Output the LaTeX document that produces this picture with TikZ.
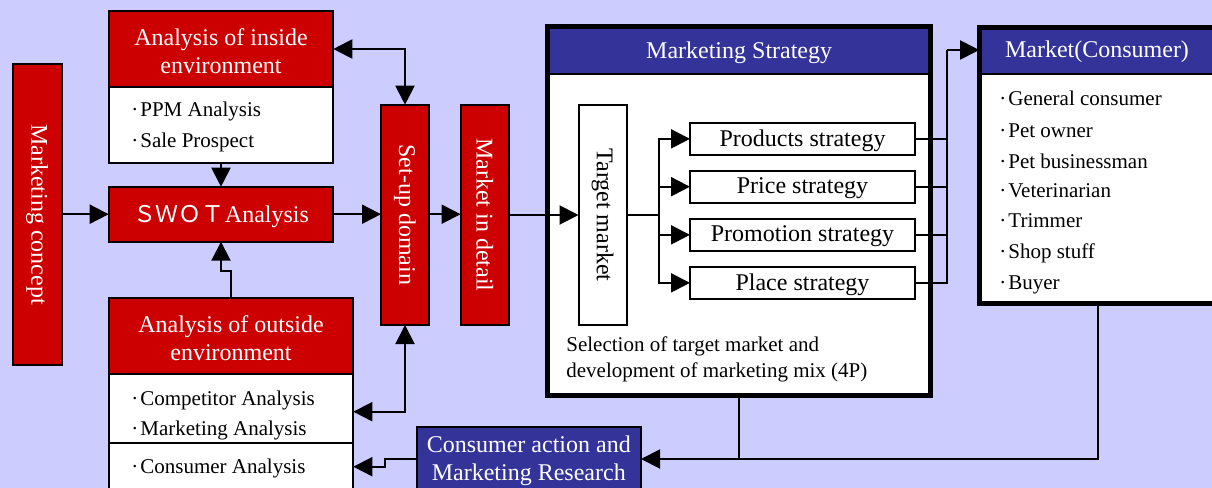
\documentclass[tikz,border=0pt]{standalone}
\usepackage{fontspec}
\setmainfont{Liberation Serif}
\newfontfamily\cjk{Noto Sans CJK JP}
\usetikzlibrary{arrows.meta,fit,calc}
\definecolor{bgc}{RGB}{204,204,255}
\definecolor{myred}{RGB}{204,0,0}
\definecolor{myblue}{RGB}{51,51,153}
\begin{document}
\begin{tikzpicture}[x=0.5pt,y=-0.5pt,
  box/.style={draw=black, line width=1pt, inner sep=0pt, outer sep=0pt},
  redbox/.style={box, fill=myred},
  bluebox/.style={box, fill=myblue},
  whitebox/.style={box, fill=white},
  thickframe/.style={draw=black, line width=2.5pt, inner sep=0pt, outer sep=0pt},
  head/.style={text=white, font=\fontsize{12}{14.2}\selectfont, align=center, inner sep=0pt, yshift=-1pt},
  btext/.style={text=black, font=\fontsize{12}{14.2}\selectfont, align=center, inner sep=0pt, yshift=-0.8pt},
  vtext/.style={rotate=-90, font=\fontsize{12}{14}\selectfont, inner sep=0pt},
  item/.style={anchor=base west, font=\fontsize{10.5}{12}\selectfont, inner sep=0pt},
  conn/.style={draw=black, line width=1pt},
  arr/.style={conn, -{Triangle[length=9.5pt,width=9.5pt]}},
  arrtwo/.style={conn, {Triangle[length=9.5pt,width=9.5pt]}-{Triangle[length=9.5pt,width=9.5pt]}}
]
\useasboundingbox (0,0) rectangle (1212,488);
\clip (0,0) rectangle (1212,488);
\fill[bgc] (0,0) rectangle (1212,488);

% Marketing concept
\node[redbox, fit={(12.7,64.3)(61.7,365)}] (concept) {};
\node[vtext, text=white] (conceptT) at (concept.center) {Marketing concept};

% Analysis of inside environment
\node[whitebox, fit={(108.7,87.3)(333.3,162.7)}] (insideB) {};
\node[redbox, fit={(108.7,10.7)(333.3,87.3)}] (insideH) {};
\node[head] (insideT) at (insideH.center) {Analysis of inside\\environment};
\node[item] (i1) at (131,116.7) {·\kern1pt PPM Analysis};
\node[item] (i2) at (131,147.7) {·\kern1pt Sale Prospect};

% SWOT
\node[redbox, fit={(108.7,186.7)(333.3,241.7)}] (swot) {};
\node[head] (swotT) at (swot.center) {{\cjk\fontsize{11.5}{14}\selectfont ＳＷＯＴ}Analysis};

% Analysis of outside environment
\node[whitebox, fit={(108.7,442.7)(353.3,500)}] (outsideB2) {};
\node[whitebox, fit={(108.7,374.3)(353.3,442.7)}] (outsideB1) {};
\node[redbox, fit={(108.7,297.7)(353.3,374.3)}] (outsideH) {};
\node[head] (outsideT) at (outsideH.center) {Analysis of outside\\environment};
\node[item] (o1) at (131,405) {·\kern1pt Competitor Analysis};
\node[item] (o2) at (131,435) {·\kern1pt Marketing Analysis};
\node[item] (o3) at (131,473.3) {·\kern1pt Consumer Analysis};

% Set-up domain, Market in detail
\node[redbox, fit={(381,104.7)(429,325)}] (setup) {};
\node[vtext, text=white] (setupT) at (setup.center) {Set-up domain};
\node[redbox, fit={(460.6,104.7)(509.3,325)}] (detail) {};
\node[vtext, text=white] (detailT) at (detail.center) {Market in detail};

% Marketing Strategy
\node[thickframe, fill=white, fit={(547.5,26.8)(930.8,395.8)}] (mstrat) {};
\node[bluebox, fit={(547.5,26.8)(930.8,74)}] (mstratH) {};
\draw[line width=2.5pt] (mstrat.north west) rectangle (mstrat.south east);
\node[head] (mstratT) at (mstratH.center) {Marketing Strategy};

\node[whitebox, fit={(578.5,105)(626.7,325)}] (target) {};
\node[vtext, text=black] (targetT) at (target.center) {Target market};

\node[whitebox, fit={(690,122.7)(915,155)}] (prod) {};
\node[btext] (prodT) at (prod.center) {Products strategy};
\node[whitebox, fit={(690,170.7)(915,202.7)}] (price) {};
\node[btext] (priceT) at (price.center) {Price strategy};
\node[whitebox, fit={(690,218.7)(915,251)}] (promo) {};
\node[btext] (promoT) at (promo.center) {Promotion strategy};
\node[whitebox, fit={(690,266.7)(915,299)}] (place) {};
\node[btext] (placeT) at (place.center) {Place strategy};

\node[item] (sel1) at (566,351) {Selection of target market and};
\node[item] (sel2) at (566,377) {development of marketing mix (4P)};

% Market (Consumer)
\node[thickframe, fill=white, fit={(979.2,27)(1240,303.3)}] (market) {};
\node[bluebox, fit={(979.2,27)(1240,74)}] (marketH) {};
\draw[line width=2.5pt] (market.north west) rectangle (market.south east);
\node[head] (marketT) at (1097,50) {Market(Consumer)};
\node[item] (m1) at (999,105.3) {·\kern1pt General consumer};
\node[item] (m2) at (999,137) {·\kern1pt Pet owner};
\node[item] (m3) at (999,168) {·\kern1pt Pet businessman};
\node[item] (m4) at (999,197.7) {·\kern1pt Veterinarian};
\node[item] (m5) at (999,227.7) {·\kern1pt Trimmer};
\node[item] (m6) at (999,258.7) {·\kern1pt Shop stuff};
\node[item] (m7) at (999,289.7) {·\kern1pt Buyer};

% Consumer action and Marketing Research
\node[bluebox, fit={(416.6,426.7)(641,491.3)}] (cact) {};
\node[head] (cactT) at (cact.center) {Consumer action and\\Marketing Research};

% Connectors
\draw[arr] (concept.east |- swot.west) -- (swot.west);
\draw[arr] (insideB.south) -- (swot.north);
\draw[arr] (outsideH.north) -- ++(0,-26.7) -| (swot.south);
\draw[arr] (swot.east) -- (setup.west |- swot.east);
\draw[arr] (setup.east |- swot.east) -- (detail.west |- swot.east);
\draw[arr] (detail.east |- target.west) -- (target.west);
\draw[arrtwo] (insideH.east) -| (setup.north);
\coordinate (so) at (405,411.7);
\draw[arrtwo] (setup.south) |- (outsideB1.east |- so);

\coordinate (br) at (658.5,215);
\draw[conn] (target.east |- br) -- (br);
\draw[arr] (br) |- (prod.west);
\draw[arr] (br) |- (price.west);
\draw[arr] (br) |- (promo.west);
\draw[arr] (br) |- (place.west);

\coordinate (col) at (946.7,50);
\draw[conn] (prod.east) -| (col);
\draw[conn] (price.east) -| (col);
\draw[conn] (promo.east) -| (col);
\draw[conn] (place.east) -| (col);
\draw[arr] (col) -- (market.west |- col);

\coordinate (mkx) at (1098,0);
\draw[arr] (market.south -| mkx) |- (cact.east);
\draw[conn] (mstrat.south) -- (mstrat.south |- cact.east);
\coordinate (jog) at (385,466.7);
\draw[arr] (cact.west) -| (jog) -- (outsideB2.east |- jog);
\end{tikzpicture}
\end{document}
